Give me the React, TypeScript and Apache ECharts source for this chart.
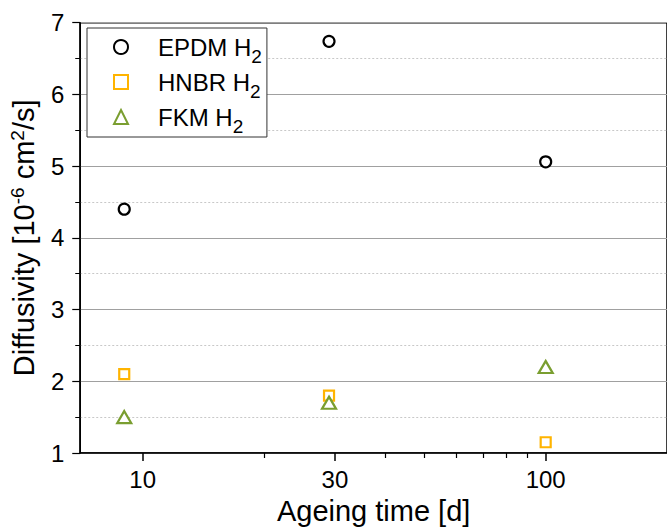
import React, { useEffect, useRef } from 'react';
import * as echarts from 'echarts';

const seriesNames = ['EPDM H2', 'HNBR H2', 'FKM H2'];
const ageingDays = [9, 29, 100];
const epdmValues = [4.4, 6.74, 5.06];
const hnbrValues = [2.1, 1.8, 1.15];
const fkmValues = [1.5, 1.7, 2.2];
const xMajorTicks = [10, 30, 100];
const xMinorTicks = [20, 40, 50, 60, 70, 80, 90];
const xRange = [7, 200];
const yRange = [1, 7];

const FONT = '"Liberation Sans", Arial, sans-serif';
const colors = ['#000000', '#FFB400', '#7A9E30'];

export default function App() {
  const ref = useRef<HTMLDivElement>(null);
  useEffect(() => {
    document.body.style.margin = '0';
    if (!ref.current) return;
    const chart = echarts.init(ref.current, undefined, { renderer: 'svg' });
    const pairs = (vals: number[]) => ageingDays.map((d, i) => [d, vals[i]]);
    const symbols = ['circle', 'rect', 'triangle'];
    const sizes: any[] = [11, 10, [14, 12]];
    const values = [epdmValues, hnbrValues, fkmValues];
    chart.setOption({
      animation: false,
      textStyle: { fontFamily: FONT },
      grid: {
        left: 79, top: 22.7, width: 590, height: 434,
        show: true, borderColor: '#000', borderWidth: 1.5, containLabel: false,
      },
      legend: {
        left: 87, top: 28, orient: 'vertical',
        backgroundColor: '#fff',
        borderColor: '#333', borderWidth: 1,
        padding: [6, 5, 1, 26],
        itemWidth: 14, itemHeight: 14, itemGap: 3,
        data: seriesNames.map((n, i) => ({ name: n, icon: symbols[i] })),
        formatter: (name: string) => name.replace(/H2$/, 'H{sub|2}'),
        textStyle: {
          fontFamily: FONT, fontSize: 24, color: '#000', lineHeight: 26,
          padding: [0, 0, 0, 25],
          rich: {
            sub: { fontFamily: FONT, fontSize: 19, color: '#000', verticalAlign: 'bottom', lineHeight: 8, padding: [0, 0, -6, 0] },
          },
        },
      },
      xAxis: [
        {
          type: 'log', logBase: 10, min: xRange[0], max: xRange[1],
          name: 'Ageing time [d]', nameLocation: 'middle', nameGap: 43,
          nameTextStyle: { fontFamily: FONT, fontSize: 29, color: '#000' },
          axisLine: { show: true, lineStyle: { color: '#000', width: 1.5 } },
          axisTick: { show: true, inside: false, length: 8, customValues: xMajorTicks, lineStyle: { color: '#000', width: 1.5 } },
          axisLabel: { show: true, customValues: xMajorTicks, margin: 14, fontFamily: FONT, fontSize: 24, color: '#000' },
          splitLine: { show: false },
          minorTick: { show: false },
        },
        {
          type: 'log', logBase: 10, min: xRange[0], max: xRange[1], position: 'bottom',
          axisLine: { show: false },
          axisTick: { show: true, inside: false, length: 5, customValues: xMinorTicks, lineStyle: { color: '#000', width: 1.2 } },
          axisLabel: { show: false },
          splitLine: { show: false },
        },
      ],
      yAxis: {
        type: 'value', min: yRange[0], max: yRange[1], interval: 1,
        name: 'Diffusivity [10{sup|-6} cm{sup|2}/s]', nameLocation: 'middle', nameGap: 33,
        nameTextStyle: {
          fontFamily: FONT, fontSize: 29, color: '#000', lineHeight: 32,
          rich: { sup: { fontFamily: FONT, fontSize: 19, color: '#000', verticalAlign: 'top', lineHeight: 18 } },
        },
        axisLine: { show: true, lineStyle: { color: '#000', width: 1.5 } },
        axisTick: { show: true, inside: false, length: 8, lineStyle: { color: '#000', width: 1.2 } },
        minorTick: { show: true, splitNumber: 2, length: 5, lineStyle: { color: '#000', width: 1 } },
        axisLabel: { margin: 16, fontFamily: FONT, fontSize: 24, color: '#000' },
        splitLine: { show: true, lineStyle: { color: '#a0a0a0', width: 1 } },
        minorSplitLine: { show: true, lineStyle: { color: '#c8c8c8', width: 1, type: [2, 2] } },
      },
      series: seriesNames.map((n, i) => ({
        name: n, type: 'scatter', xAxisIndex: 0,
        symbol: symbols[i], symbolSize: sizes[i],
        itemStyle: { color: '#fff', borderColor: colors[i], borderWidth: 2.2, opacity: 1 },
        data: pairs(values[i]),
        z: 5,
      })),
    });
    return () => chart.dispose();
  }, []);
  return <div ref={ref} style={{ width: 667, height: 530 }} />;
}
